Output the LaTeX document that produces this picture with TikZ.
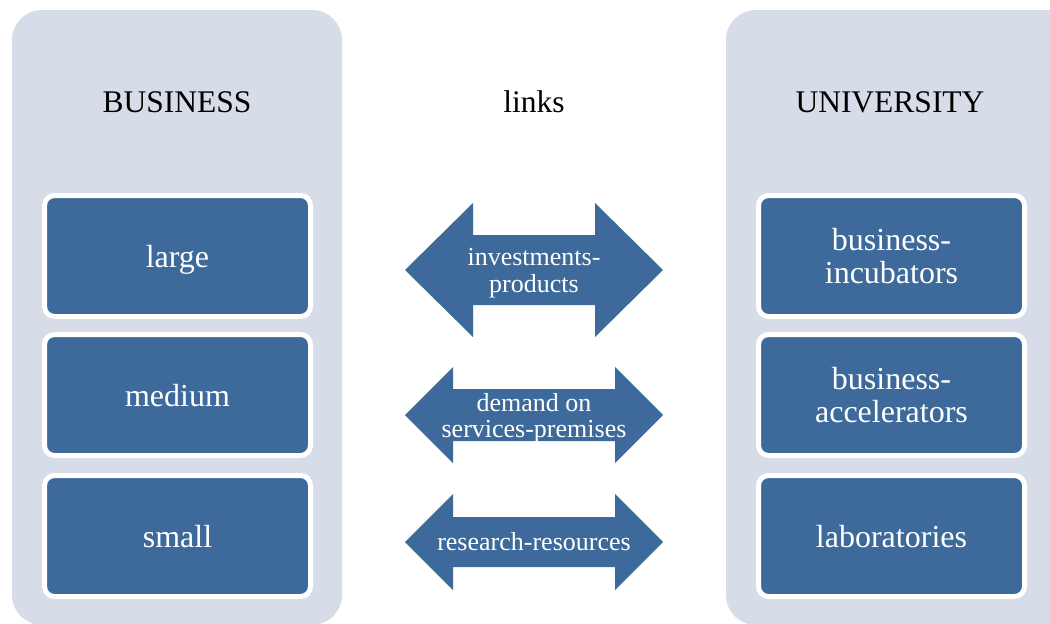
\documentclass[tikz,border=0pt]{standalone}
\usepackage{fontspec}
\setmainfont{Liberation Serif}
\definecolor{panelc}{HTML}{D6DCE8}
\definecolor{boxc}{HTML}{3D6A9A}
\tikzset{
  panel/.style={fill=panelc, draw=none, rounded corners=30pt},
  itembox/.style={rectangle, fill=boxc, draw=white, line width=5pt, rounded corners=10pt,
    minimum width=266pt, minimum height=121pt, inner sep=0pt, text=white, align=center,
    text depth=0pt, font=\fontsize{32}{32.5}\selectfont},
  heading/.style={anchor=base, inner sep=0pt, text=black, font=\fontsize{31.5}{34}\selectfont},
  linkarrow/.style={fill=boxc, draw=none},
  linktext/.style={text=white, align=center, inner sep=0pt, font=\fontsize{26}{26.5}\selectfont}
}
\begin{document}
\begin{tikzpicture}[x=1pt,y=-1pt]
\useasboundingbox (0,0) rectangle (1050,624);
\clip (0,0) rectangle (1050,624);
\fill[white] (0,0) rectangle (1050,624);
% panels
\path[panel] (12,10) rectangle (342,625);
\path[panel] (726,10) rectangle (1090,625);
% headings
\node[heading] (hbus) at (177,112) {BUSINESS};
\node[heading] (hlinks) at (534,112) {links};
\node[heading] (huni) at (890,112) {UNIVERSITY};
% left boxes
\node[itembox] (large) at (177.5,256) {large};
\node[itembox] (medium) at (177.5,395) {medium};
\node[itembox] (small) at (177.5,536) {small};
% right boxes
\node[itembox] (incub) at (891.5,256) {business-\\incubators};
\node[itembox] (accel) at (891.5,395) {business-\\accelerators};
\node[itembox] (labs) at (891.5,536) {laboratories};
% arrows
\fill[linkarrow] (405,270) -- (473,203) -- (473,235) -- (595,235) -- (595,203) -- (663,270)
  -- (595,337) -- (595,305) -- (473,305) -- (473,337) -- cycle;
\fill[linkarrow] (405,415) -- (453,367) -- (453,389) -- (615,389) -- (615,367) -- (663,415)
  -- (615,463) -- (615,441) -- (453,441) -- (453,463) -- cycle;
\fill[linkarrow] (405,542) -- (453,494) -- (453,517) -- (615,517) -- (615,494) -- (663,542)
  -- (615,590) -- (615,567) -- (453,567) -- (453,590) -- cycle;
\node[linktext] (t1) at (534,273) {investments-\\products};
\node[linktext] (t2) at (534,418) {demand on\\services-premises};
\node[linktext] (t3) at (534,542) {research-resources};
\end{tikzpicture}
\end{document}
